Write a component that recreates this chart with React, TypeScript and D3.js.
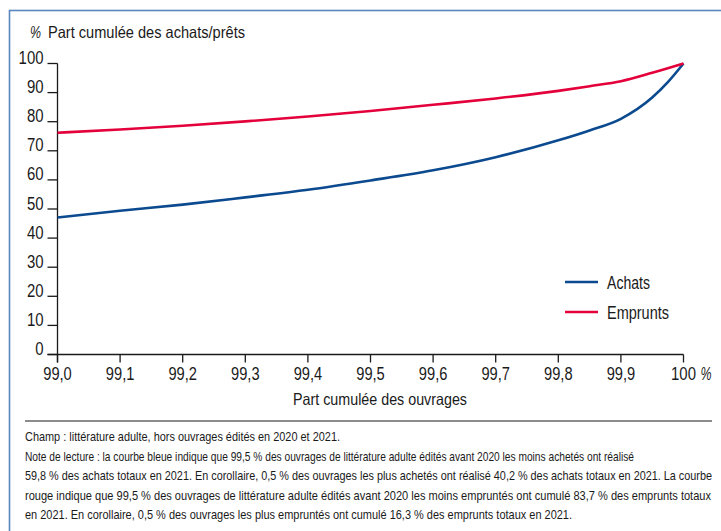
import React from "react";
import * as d3 from "d3";

const xTicks = [99.0, 99.1, 99.2, 99.3, 99.4, 99.5, 99.6, 99.7, 99.8, 99.9, 100];
const xTickLabels = ["99,0", "99,1", "99,2", "99,3", "99,4", "99,5", "99,6", "99,7", "99,8", "99,9", "100"];
const yTicks = [0, 10, 20, 30, 40, 50, 60, 70, 80, 90, 100];

const achatsX = [99.0, 99.1, 99.2, 99.3, 99.4, 99.5, 99.6, 99.7, 99.8, 99.85, 99.9, 99.95, 99.975, 100];
const achatsY = [47.1, 49.4, 51.5, 54.0, 56.6, 59.8, 63.3, 67.8, 73.6, 77.0, 81.0, 88.3, 93.6, 100];

const empruntsX = [99.0, 99.1, 99.2, 99.3, 99.4, 99.5, 99.6, 99.7, 99.8, 99.85, 99.9, 99.95, 100];
const empruntsY = [76.2, 77.3, 78.6, 80.1, 81.8, 83.7, 85.8, 88.0, 90.6, 92.2, 93.9, 96.8, 100];

const seriesNames = ["Achats", "Emprunts"];
const seriesColors = ["#0b4a8f", "#e4003b"];

const yUnit = "%";
const yTitle = "Part cumulée des achats/prêts";
const xTitle = "Part cumulée des ouvrages";
const notes = [
  "Champ : littérature adulte, hors ouvrages édités en 2020 et 2021.",
  "Note de lecture : la courbe bleue indique que 99,5 % des ouvrages de littérature adulte édités avant 2020 les moins achetés ont réalisé",
  "59,8 % des achats totaux en 2021. En corollaire, 0,5 % des ouvrages les plus achetés ont réalisé 40,2 % des achats totaux en 2021. La courbe",
  "rouge indique que 99,5 % des ouvrages de littérature adulte édités avant 2020 les moins empruntés ont cumulé 83,7 % des emprunts totaux",
  "en 2021. En corollaire, 0,5 % des ouvrages les plus empruntés ont cumulé 16,3 % des emprunts totaux en 2021.",
];
const noteWidths = [315, 609, 687, 686, 547];

const FONT = "'Liberation Sans', Arial, sans-serif";
const INK = "#1a1a1a";

function numWidth(s: string) {
  let w = 0;
  for (const c of s) w += c === "," ? 3.6 : 8.3;
  return w;
}

function T(props: {
  x: number;
  y: number;
  w: number;
  size: number;
  anchor?: "start" | "middle" | "end";
  italic?: boolean;
  children: string;
}) {
  const { x, y, w, size, anchor = "start", italic, children } = props;
  const sx = anchor === "middle" ? x - w / 2 : anchor === "end" ? x - w : x;
  return (
    <text
      x={sx}
      y={y}
      fontSize={size}
      textLength={w}
      lengthAdjust="spacingAndGlyphs"
      fontStyle={italic ? "italic" : "normal"}
      fill={INK}
    >
      {children}
    </text>
  );
}

export default function App() {
  const W = 721, H = 531;
  const x = d3.scaleLinear().domain([99, 100]).range([57.5, 683.5]);
  const y = d3.scaleLinear().domain([0, 100]).range([354.5, 63.5]);
  const line = d3
    .line<[number, number]>()
    .x((d) => x(d[0]))
    .y((d) => y(d[1]))
    .curve(d3.curveMonotoneX);
  const series = [
    achatsX.map((v, i) => [v, achatsY[i]] as [number, number]),
    empruntsX.map((v, i) => [v, empruntsY[i]] as [number, number]),
  ];
  return (
    <svg
      width={W}
      height={H}
      style={{ position: "absolute", left: 0, top: 0, background: "#fff" }}
      fontFamily={FONT}
    >
      <rect x={9.5} y={10.5} width={730} height={540} fill="none" stroke="#5a86bf" strokeWidth={1.6} />
      <T x={30} y={38} w={11} size={16.5} italic>{yUnit}</T>
      <T x={48} y={38} w={197} size={16.5}>{yTitle}</T>
      {/* y axis */}
      <line x1={x(99)} x2={x(99)} y1={y(100)} y2={y(0) + 8} stroke={INK} strokeWidth={1.3} />
      {yTicks.map((t) => (
        <g key={t}>
          <line x1={x(99) - 10} x2={x(99)} y1={y(t)} y2={y(t)} stroke={INK} strokeWidth={1.3} />
          <T x={43.5} y={y(t) + 0.5} w={numWidth(String(t))} size={17.5} anchor="end">{String(t)}</T>
        </g>
      ))}
      {/* x axis */}
      <line x1={x(99) - 10} x2={x(100)} y1={y(0)} y2={y(0)} stroke={INK} strokeWidth={1.3} />
      {xTicks.map((t, i) => (
        <g key={t}>
          <line x1={x(t)} x2={x(t)} y1={y(0)} y2={y(0) + 8} stroke={INK} strokeWidth={1.3} />
          <T x={x(t)} y={380} w={numWidth(xTickLabels[i])} size={17.5} anchor="middle">{xTickLabels[i]}</T>
        </g>
      ))}
      <T x={x(100) + 17} y={380} w={11} size={17.5} italic>%</T>
      <T x={293} y={405} w={174} size={16.5}>{xTitle}</T>
      {/* lines */}
      {series.map((s, i) => (
        <path key={i} d={line(s) || ""} fill="none" stroke={seriesColors[i]} strokeWidth={2.6} strokeLinejoin="round" />
      ))}
      {/* legend */}
      {seriesNames.map((n, i) => (
        <g key={n}>
          <line x1={565} x2={598} y1={282 + i * 30} y2={282 + i * 30} stroke={seriesColors[i]} strokeWidth={2.6} />
          <T x={607} y={289 + i * 30} w={i === 0 ? 43 : 62} size={17.5}>{n}</T>
        </g>
      ))}
      {/* rule + notes */}
      <line x1={25} x2={712} y1={421} y2={421} stroke={INK} strokeWidth={1.2} />
      {notes.map((n, i) => (
        <T key={i} x={25} y={441 + i * 19.6} w={noteWidths[i]} size={13}>{n}</T>
      ))}
    </svg>
  );
}
